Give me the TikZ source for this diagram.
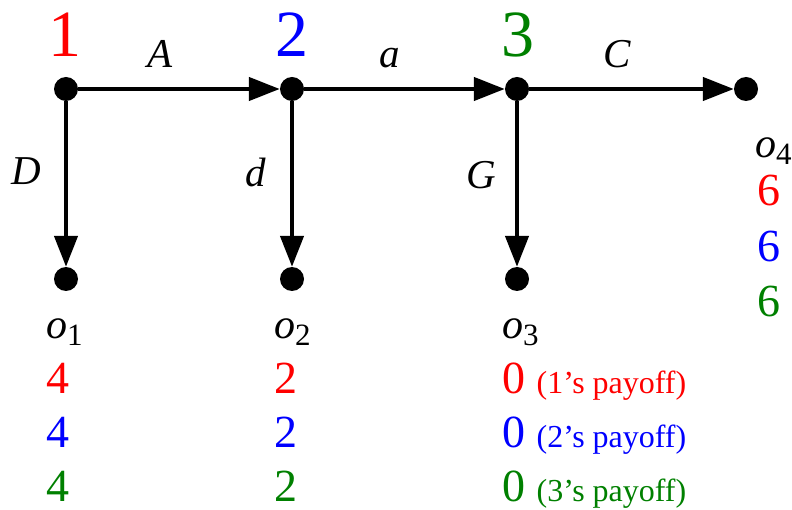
\documentclass[tikz,border=0pt]{standalone}
\usepackage{fontspec}
\setmainfont{Liberation Serif}
\usetikzlibrary{arrows.meta}
\definecolor{pred}{RGB}{255,0,0}
\definecolor{pblue}{RGB}{0,0,255}
\definecolor{pgreen}{RGB}{0,128,0}
\newcommand\outc[1]{{\itshape o}\raisebox{-7pt}{\fontsize{31}{31}\selectfont #1}}
\begin{document}
\begin{tikzpicture}[x=1pt,y=-1pt,
  dot/.style={circle,fill=black,inner sep=0pt,minimum size=24pt},
  move/.style={line width=4.5pt,-{Triangle[length=31pt,width=23pt]}},
  player/.style={font=\fontsize{66}{66}\selectfont,anchor=base,inner sep=0pt},
  act/.style={font=\fontsize{41}{41}\selectfont\itshape,anchor=base,inner sep=0pt},
  olab/.style={font=\fontsize{42}{42}\selectfont,anchor=base west,inner sep=0pt},
  pay/.style={font=\fontsize{46}{46}\selectfont,anchor=base west,inner sep=0pt}]
\useasboundingbox (0,0) rectangle (792,510);
% decision and terminal nodes
\node[dot] (n1) at (66,89) {};
\node[dot] (n2) at (292,89) {};
\node[dot] (n3) at (517,89) {};
\node[dot] (n4) at (746,89) {};
\node[dot] (t1) at (66,279) {};
\node[dot] (t2) at (292,279) {};
\node[dot] (t3) at (517,279) {};
% moves
\draw[move] (n1) -- (n2);
\draw[move] (n2) -- (n3);
\draw[move] (n3) -- (n4);
\draw[move] (n1) -- (t1);
\draw[move] (n2) -- (t2);
\draw[move] (n3) -- (t3);
% players
\node[player,text=pred] (p1) at (65,57) {1};
\node[player,text=pblue] (p2) at (292,57) {2};
\node[player,text=pgreen] (p3) at (518,57) {3};
% action labels
\node[act] (lA) at (160,68) {A};
\node[act] (la) at (390,68) {a};
\node[act] (lC) at (617,68) {C};
\node[act] (lD) at (26,185) {D};
\node[act] (ld) at (256,187) {d};
\node[act] (lG) at (481,189) {G};
% outcome o4
\node[olab] (o4) at (755,158) {\outc{4}};
\node[pay,text=pred] (o4a) at (757,206) {6};
\node[pay,text=pblue] (o4b) at (757,262) {6};
\node[pay,text=pgreen] (o4c) at (757,317) {6};
% outcome o1
\node[olab] (o1) at (46,338) {\outc{1}};
\node[pay,text=pred] (o1a) at (46,393) {4};
\node[pay,text=pblue] (o1b) at (46,447) {4};
\node[pay,text=pgreen] (o1c) at (46,501) {4};
% outcome o2
\node[olab] (o2) at (274,338) {\outc{2}};
\node[pay,text=pred] (o2a) at (274,393) {2};
\node[pay,text=pblue] (o2b) at (274,447) {2};
\node[pay,text=pgreen] (o2c) at (274,501) {2};
% outcome o3
\node[olab] (o3) at (502,338) {\outc{3}};
\node[pay,text=pred] (o3a) at (502,393) {0 {\fontsize{32}{32}\selectfont (1’s payoff)}};
\node[pay,text=pblue] (o3b) at (502,447) {0 {\fontsize{32}{32}\selectfont (2’s payoff)}};
\node[pay,text=pgreen] (o3c) at (502,501) {0 {\fontsize{32}{32}\selectfont (3’s payoff)}};
\end{tikzpicture}
\end{document}
